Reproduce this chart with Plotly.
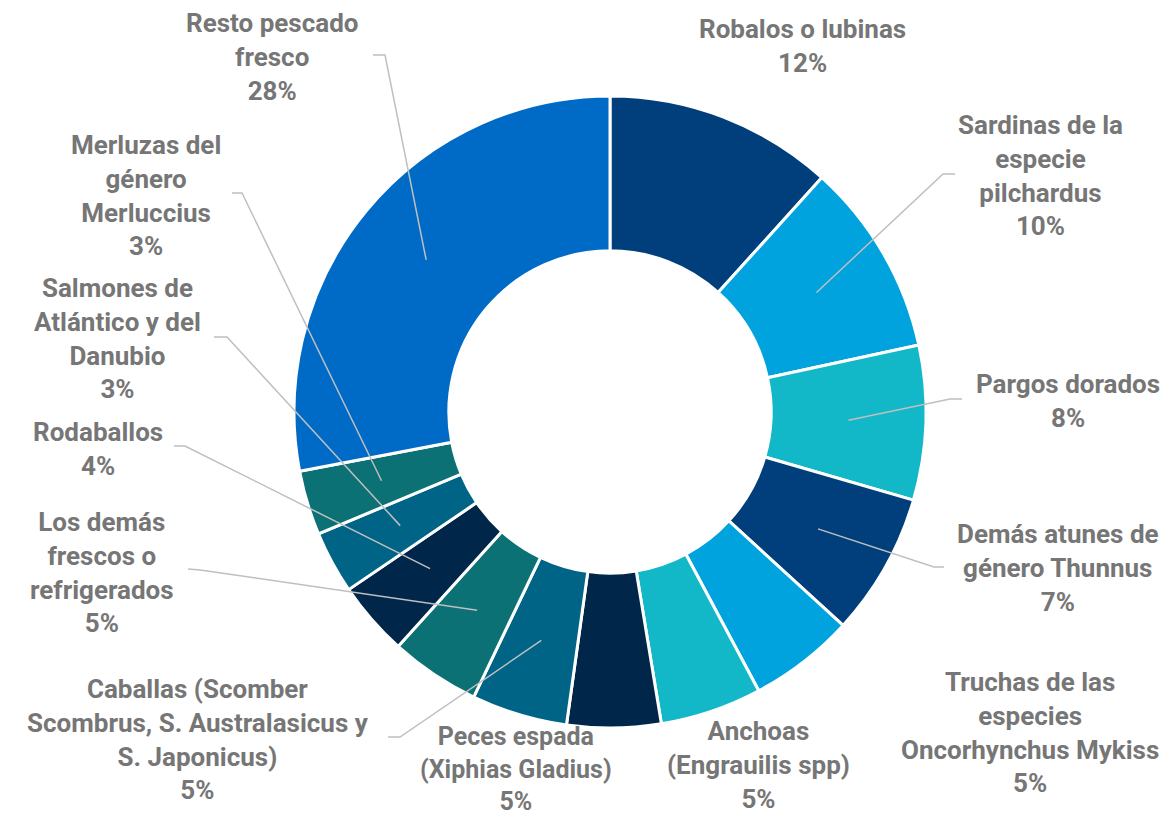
import numpy as np
import plotly.graph_objects as go

# the page body has an 8px margin, so the figure is drawn 8px in from the corner
OFF = 8
W, H = 1170 - OFF, 818 - OFF

labels = [
    "Robalos o lubinas",
    "Sardinas de la<br>especie<br>pilchardus",
    "Pargos dorados",
    "Demás atunes de<br>género Thunnus",
    "Truchas de las<br>especies<br>Oncorhynchus Mykiss",
    "Anchoas<br>(Engrauilis spp)",
    "Peces espada<br>(Xiphias Gladius)",
    "Caballas (Scomber<br>Scombrus, S. Australasicus y<br>S. Japonicus)",
    "Los demás<br>frescos o<br>refrigerados",
    "Rodaballos",
    "Salmones de<br>Atlántico y del<br>Danubio",
    "Merluzas del<br>género<br>Merluccius",
    "Resto pescado<br>fresco",
]
values = [11.7, 9.9, 7.9, 7.3, 5.4, 5.2, 4.8, 4.9, 4.6, 3.8, 3.2, 3.3, 28.0]
colors = ["#003f7b", "#00a3dd", "#13b8c8", "#003f7b", "#00a3dd", "#13b8c8",
          "#00264a", "#006486", "#0b7175", "#00264a", "#006486", "#0b7175",
          "#006bc6"]

# layout: label block centres (screen px), font size, leader start/corner points
label_pos = [(802, 46), (1040, 176), (1068, 401), (1058, 568), (1030, 732),
             (758, 765), (516, 769), (198, 739), (102, 572), (98, 449),
             (117, 338), (146, 196), (272, 57)]
label_size = [26, 26, 26, 26, 26, 26, 25, 26, 26, 26, 26, 26, 26]
leader_pts = [None, [(955, 174), (943, 174)], [(962, 399), (950, 399)],
              [(944, 567), (934, 567)], None, None, None,
              [(388, 737), (400, 737)], [(188, 569), (200, 570)],
              [(174, 446), (185, 446)], [(214, 337), (227, 337)],
              [(232, 193), (242, 193)], [(373, 55), (385, 55)]]

cx, cy, R = 610, 412, 316
hole = 0.51


def px(x, y):
    return (x - OFF) / W, 1 - (y - OFF) / H


fig = go.Figure()
x0, y1 = px(cx - R, cy - R)
x1, y0 = px(cx + R, cy + R)
fig.add_trace(go.Pie(
    labels=[l.replace("<br>", " ") for l in labels], values=values,
    sort=False, direction="clockwise", rotation=0, hole=hole,
    textinfo="none", hoverinfo="label+percent",
    marker=dict(colors=colors, line=dict(color="white", width=3)),
    domain=dict(x=[x0, x1], y=[y0, y1]),
    showlegend=False,
))

total = sum(values)
cum = np.cumsum([0] + values)
annotations = []
shapes = []
for i, (lab, v) in enumerate(zip(labels, values)):
    pct = round(v / total * 100)
    ax, ay = px(*label_pos[i])
    annotations.append(dict(
        x=ax, y=ay, xref="paper", yref="paper", text=f"{lab}<br>{pct}%",
        showarrow=False, xanchor="center", yanchor="middle", align="center",
        borderpad=0,
        font=dict(family="Roboto", size=label_size[i], color="#767676", weight="bold"),
    ))
    if leader_pts[i] is not None:
        mid = np.deg2rad((cum[i] + v / 2) / total * 360)
        r = (hole + 1) / 2 * R
        ex, ey = cx + r * np.sin(mid), cy - r * np.cos(mid)
        pts = leader_pts[i] + [(ex, ey)]
        path = "M " + " L ".join(f"{px(x, y)[0]},{px(x, y)[1]}" for x, y in pts)
        shapes.append(dict(type="path", path=path, xref="paper", yref="paper",
                           line=dict(color="#bfbfbf", width=1.5), layer="above"))

fig.update_layout(
    width=W, height=H, margin=dict(l=0, r=0, t=0, b=0),
    paper_bgcolor="white", plot_bgcolor="white",
    annotations=annotations, shapes=shapes,
)
fig.write_html("out.html")
